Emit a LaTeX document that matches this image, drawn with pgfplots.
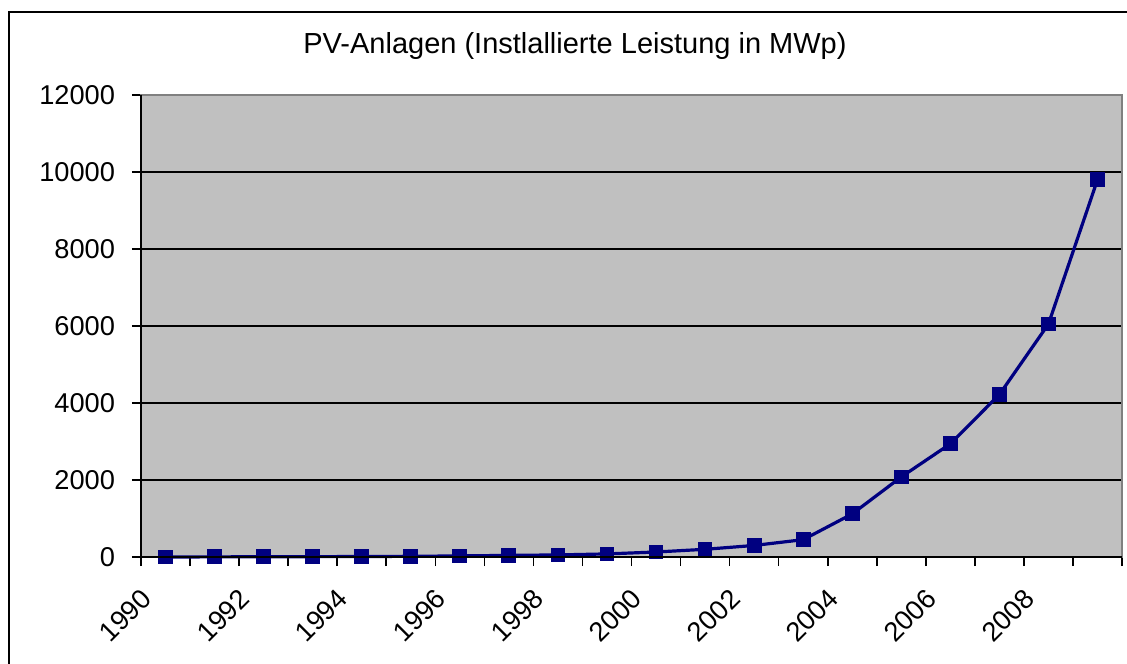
\documentclass[border=0pt]{standalone}
\usepackage{fontspec}
\setmainfont{Liberation Sans}
\usepackage{pgfplots}
\pgfplotsset{compat=1.18}
\definecolor{navy}{HTML}{000080}
\definecolor{plotgray}{HTML}{C0C0C0}
\definecolor{bordergray}{HTML}{808080}
\begin{document}
\begin{tikzpicture}
\begin{axis}[
  at={(0pt,0pt)}, anchor=south west,
  scale only axis, width=490.5pt, height=231pt,
  xmin=-0.5, xmax=19.5, ymin=0, ymax=12000,
  axis background/.style={fill=plotgray},
  axis line style={draw=bordergray, line width=0.9pt},
  tick pos=left,
  scaled y ticks=false,
  xtick={-0.5,0.5,...,19.5}, xticklabel=\empty,
  ytick={0,2000,4000,6000,8000,10000,12000},
  yticklabels={0,2000,4000,6000,8000,10000,12000},
  ymajorgrids, grid style={black, line width=0.8pt},
  tick align=outside, major tick length=4.5pt,
  tick style={black, line width=0.8pt},
  ticklabel style={font=\fontsize{13.6}{16}\selectfont},
  yticklabel style={xshift=-5pt},
  extra x ticks={0,2,...,18},
  extra x tick labels={1990,1992,1994,1996,1998,2000,2002,2004,2006,2008},
  extra x tick style={major tick length=0pt, grid=none,
     tick label style={xshift=-7pt, yshift=-16pt, rotate=45, anchor=east}},
  clip=false,
]
\addplot[navy, line width=1.6pt, mark=square*, mark size=2.9pt, mark options={solid}]
coordinates {
(0,2) (1,3) (2,6) (3,9) (4,12) (5,18) (6,28) (7,42) (8,54)
(9,80) (10,130) (11,200) (12,300) (13,450) (14,1120)
(15,2080) (16,2940) (17,4220) (18,6050) (19,9800)
};
\end{axis}
\draw[black, line width=0.9pt] (0pt,231pt) -- (0pt,0pt) -- (490.5pt,0pt);
\node[font=\fontsize{14.5}{17}\selectfont] at (217pt,255.5pt) {PV-Anlagen (Instlallierte Leistung in MWp)};
\draw[black, line width=1pt] (-66pt,-90pt) rectangle (530pt,272.5pt);
\pgfresetboundingbox
\useasboundingbox (-70.5pt,-53pt) rectangle (493pt,278.5pt);
\end{tikzpicture}
\end{document}
